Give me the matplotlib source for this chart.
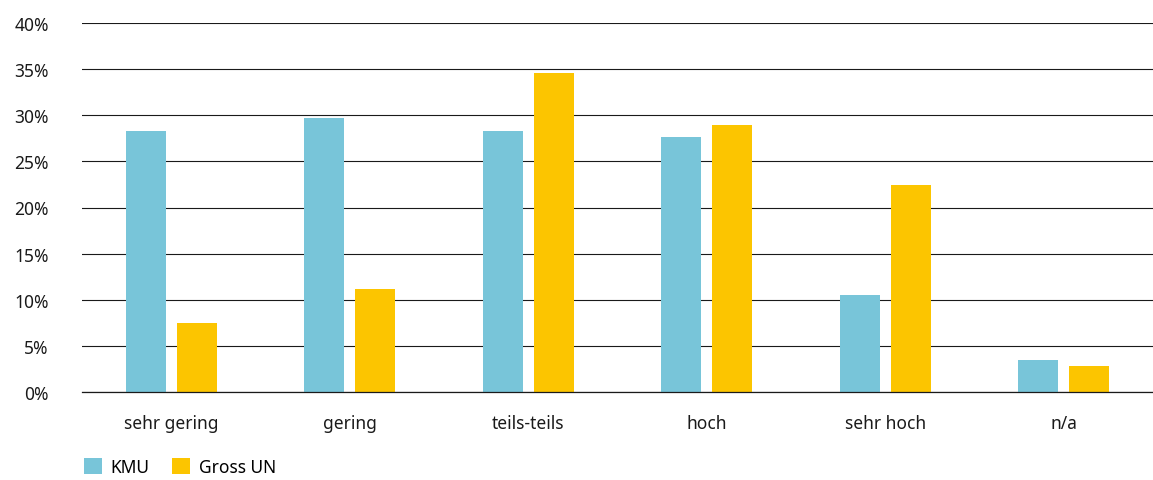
import numpy as np
from matplotlib import pyplot as plt
from matplotlib.ticker import FuncFormatter

categories = ['sehr gering', 'gering', 'teils-teils', 'hoch', 'sehr hoch', 'n/a']
kmu = [28.3, 29.7, 28.3, 27.6, 10.5, 3.5]
gross_un = [7.5, 11.2, 34.6, 28.9, 22.4, 2.8]
series_names = ['KMU', 'Gross UN']
colors = ['#78C5D9', '#FCC500']

plt.rcParams['font.family'] = ['Noto Sans', 'DejaVu Sans']

fig = plt.figure(figsize=(11.53, 4.81), dpi=100)
ax = fig.add_axes([82 / 1153, 1 - 393 / 481, 1 - 82 / 1153, (393 - 24) / 481])

x = np.arange(len(categories))
w = 0.224
off = 0.143
ax.bar(x - off, kmu, w, color=colors[0], label=series_names[0], zorder=3)
ax.bar(x + off, gross_un, w, color=colors[1], label=series_names[1], zorder=3)

ax.set_xlim(-0.5, len(categories) - 0.5)
ax.set_ylim(0, 40)
ax.set_yticks(np.arange(0, 41, 5))
ax.yaxis.set_major_formatter(FuncFormatter(lambda v, p: f'{v:.0f}%'))
ax.set_xticks(x)
ax.set_xticklabels(categories)
ax.grid(axis='y', color='#1a1a1a', linewidth=0.8, zorder=0)
ax.axhline(0, color='#1a1a1a', linewidth=0.9, zorder=4, clip_on=False)
for s in ax.spines.values():
    s.set_visible(False)
ax.tick_params(axis='both', length=0, labelsize=12.5, colors='#1a1a1a')
ax.tick_params(axis='y', pad=24)
ax.tick_params(axis='x', pad=16)

fig.legend(loc='lower left', bbox_to_anchor=(68 / 1153, -0.024), ncol=2, frameon=False,
           fontsize=12.5, handlelength=1.05, handleheight=1.05, handletextpad=0.5,
           columnspacing=1.3)

fig.savefig('out.png', dpi=100)
